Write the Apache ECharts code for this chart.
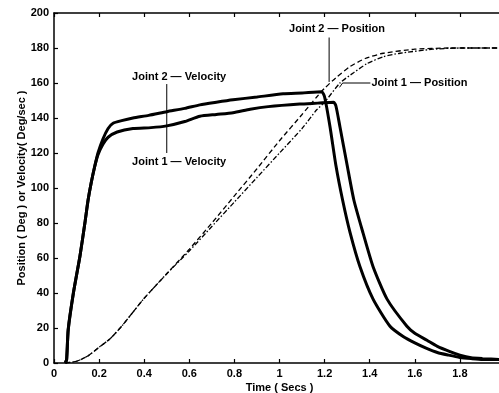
<!DOCTYPE html>
<html>
<head>
<meta charset="utf-8">
<script src="https://cdn.jsdelivr.net/npm/echarts@6/dist/echarts.min.js"></script>
<style>
  html, body { margin: 0; padding: 0; background: #fff; }
  #chart { width: 499px; height: 393px; }
</style>
</head>
<body>
<div id="chart"></div>
<script>
// 数据
var j2VelT = [0.05, 0.056, 0.063, 0.086, 0.115, 0.137, 0.151, 0.165, 0.18, 0.195, 0.217, 0.24, 0.262, 0.3, 0.35, 0.42, 0.5, 0.58, 0.647, 0.72, 0.794, 0.9, 1.016, 1.1, 1.187, 1.2, 1.224, 1.25, 1.28, 1.313, 1.357, 1.415, 1.49, 1.55, 1.6, 1.65, 1.7, 1.75, 1.8, 1.85, 1.9, 1.98];
var j2Vel  = [0, 2, 19, 40, 61, 80, 93, 103, 112, 120, 128, 134, 137, 138.5, 140, 141.5, 143.6, 145.5, 147.5, 149, 150.4, 152, 153.8, 154.3, 155, 152, 135, 113, 93, 74.5, 55, 36.5, 21, 15, 11.5, 8.5, 6, 4.5, 3.2, 2.5, 2, 2];

var j1VelT = [0.05, 0.056, 0.063, 0.086, 0.115, 0.137, 0.151, 0.165, 0.18, 0.195, 0.217, 0.24, 0.28, 0.35, 0.43, 0.5, 0.58, 0.647, 0.72, 0.794, 0.87, 0.95, 1.09, 1.17, 1.24, 1.25, 1.268, 1.3, 1.33, 1.37, 1.415, 1.477, 1.565, 1.6, 1.654, 1.7, 1.756, 1.8, 1.85, 1.9, 1.98];
var j1Vel  = [0, 2, 19, 40, 61, 80, 93, 103, 112, 119, 125, 129, 132, 134, 134.5, 135.5, 138, 141, 142, 143, 145, 146.5, 148, 148.5, 149, 147, 135, 113, 93, 74.5, 55, 36.5, 21, 17, 13, 9.5, 6.5, 4.5, 3, 2.5, 2];

var j2PosT = [0.05, 0.1, 0.15, 0.2, 0.25, 0.3, 0.35, 0.4, 0.5, 0.6, 0.7, 0.8, 0.9, 1.0, 1.1, 1.165, 1.2, 1.25, 1.313, 1.38, 1.46, 1.6, 1.75, 1.98];
var j2Pos  = [0, 1, 4, 9, 14, 21, 29, 37, 51, 65, 80, 95.5, 111, 127, 142, 152, 157, 163, 169.4, 174, 177, 179.3, 180, 180];

var j1PosT = [0.05, 0.1, 0.15, 0.2, 0.25, 0.3, 0.35, 0.4, 0.5, 0.6, 0.7, 0.8, 0.9, 1.0, 1.1, 1.165, 1.2, 1.268, 1.33, 1.387, 1.46, 1.534, 1.68, 1.8, 1.98];
var j1Pos  = [0, 1, 4, 9, 14, 21, 29, 37, 51, 64, 78, 92, 106, 120, 134, 144.7, 149, 160, 166, 171, 175, 177, 179.3, 180, 180];

function pairs(ts, vs) {
    return ts.map(function (t, i) { return [t, vs[i]]; });
}

var FONT = 'Liberation Sans, Arial, sans-serif';
var myChart = echarts.init(document.getElementById('chart'));

var tickStyle = { inside: true, length: 4, lineStyle: { color: '#000', width: 1.2 } };
var lineBase = { type: 'line', showSymbol: false, smooth: 0.2 };

myChart.setOption({
    animation: false,
    backgroundColor: '#fff',
    grid: { left: 54, top: 13, right: -6, bottom: 30, outerBoundsMode: 'none' },
    xAxis: [{
        type: 'value',
        min: 0,
        max: 2,
        interval: 0.2,
        name: 'Time ( Secs )',
        nameLocation: 'middle',
        nameGap: 19,
        nameMoveOverlap: false,
        nameTextStyle: { fontFamily: FONT, fontWeight: 'bold', fontSize: 11, color: '#000' },
        axisLine: { lineStyle: { color: '#000', width: 1.5 } },
        axisTick: tickStyle,
        splitLine: { show: false },
        axisLabel: {
            showMaxLabel: false,
            margin: 5,
            fontFamily: FONT, fontWeight: 'bold', fontSize: 11, color: '#000',
            formatter: function (v) { return String(Math.round(v * 10) / 10); }
        }
    }, {
        type: 'value',
        position: 'top',
        min: 0,
        max: 2,
        interval: 0.2,
        axisLine: { lineStyle: { color: '#000', width: 1.5 } },
        axisTick: tickStyle,
        axisLabel: { show: false },
        splitLine: { show: false }
    }],
    yAxis: {
        type: 'value',
        min: 0,
        max: 200,
        interval: 20,
        name: 'Position ( Deg ) or Velocity( Deg/sec )',
        nameLocation: 'middle',
        nameGap: 27,
        nameMoveOverlap: false,
        nameTextStyle: { fontFamily: FONT, fontWeight: 'bold', fontSize: 11, color: '#000' },
        axisLine: { show: true, lineStyle: { color: '#000', width: 1.5 } },
        axisTick: tickStyle,
        splitLine: { show: false },
        axisLabel: { margin: 5, fontFamily: FONT, fontWeight: 'bold', fontSize: 11, color: '#000' }
    },
    series: [
        Object.assign({ name: 'Joint 2 Velocity', data: pairs(j2VelT, j2Vel),
          lineStyle: { color: '#000', width: 3 } }, lineBase),
        Object.assign({ name: 'Joint 1 Velocity', data: pairs(j1VelT, j1Vel),
          lineStyle: { color: '#000', width: 3 } }, lineBase),
        Object.assign({ name: 'Joint 2 Position', data: pairs(j2PosT, j2Pos),
          lineStyle: { color: '#000', width: 1.3, type: [5, 3] } }, lineBase),
        Object.assign({ name: 'Joint 1 Position', data: pairs(j1PosT, j1Pos),
          lineStyle: { color: '#000', width: 1.3, type: [5, 2, 1.5, 2] } }, lineBase)
    ]
});

// 标注文字和引线
function px(t, v) { return myChart.convertToPixel({ gridIndex: 0 }, [t, v]); }
var txt = { fontFamily: FONT, fontWeight: 'bold', fontSize: 11, fill: '#000' };
function label(text, p, align) {
    return { type: 'text', x: p[0], y: p[1], style: Object.assign({ text: text, align: align || 'center', verticalAlign: 'middle' }, txt) };
}
function seg(a, b) {
    return { type: 'line', shape: { x1: a[0], y1: a[1], x2: b[0], y2: b[1] }, style: { stroke: '#000', lineWidth: 1 } };
}
myChart.setOption({
    graphic: [
        label('Joint 2 — Velocity', px(0.555, 163.4)),
        seg(px(0.5, 159.4), px(0.5, 120)),
        label('Joint 1 — Velocity', px(0.555, 114.9)),
        label('Joint 2 — Position', px(1.255, 190.9)),
        seg(px(1.22, 186), px(1.22, 160.6)),
        label('Joint 1 — Position', px(1.408, 160), 'left'),
        seg(px(1.28, 160), px(1.403, 160)),
        seg(px(1.28, 160), px(1.266, 157.5))
    ]
});
</script>
</body>
</html>
